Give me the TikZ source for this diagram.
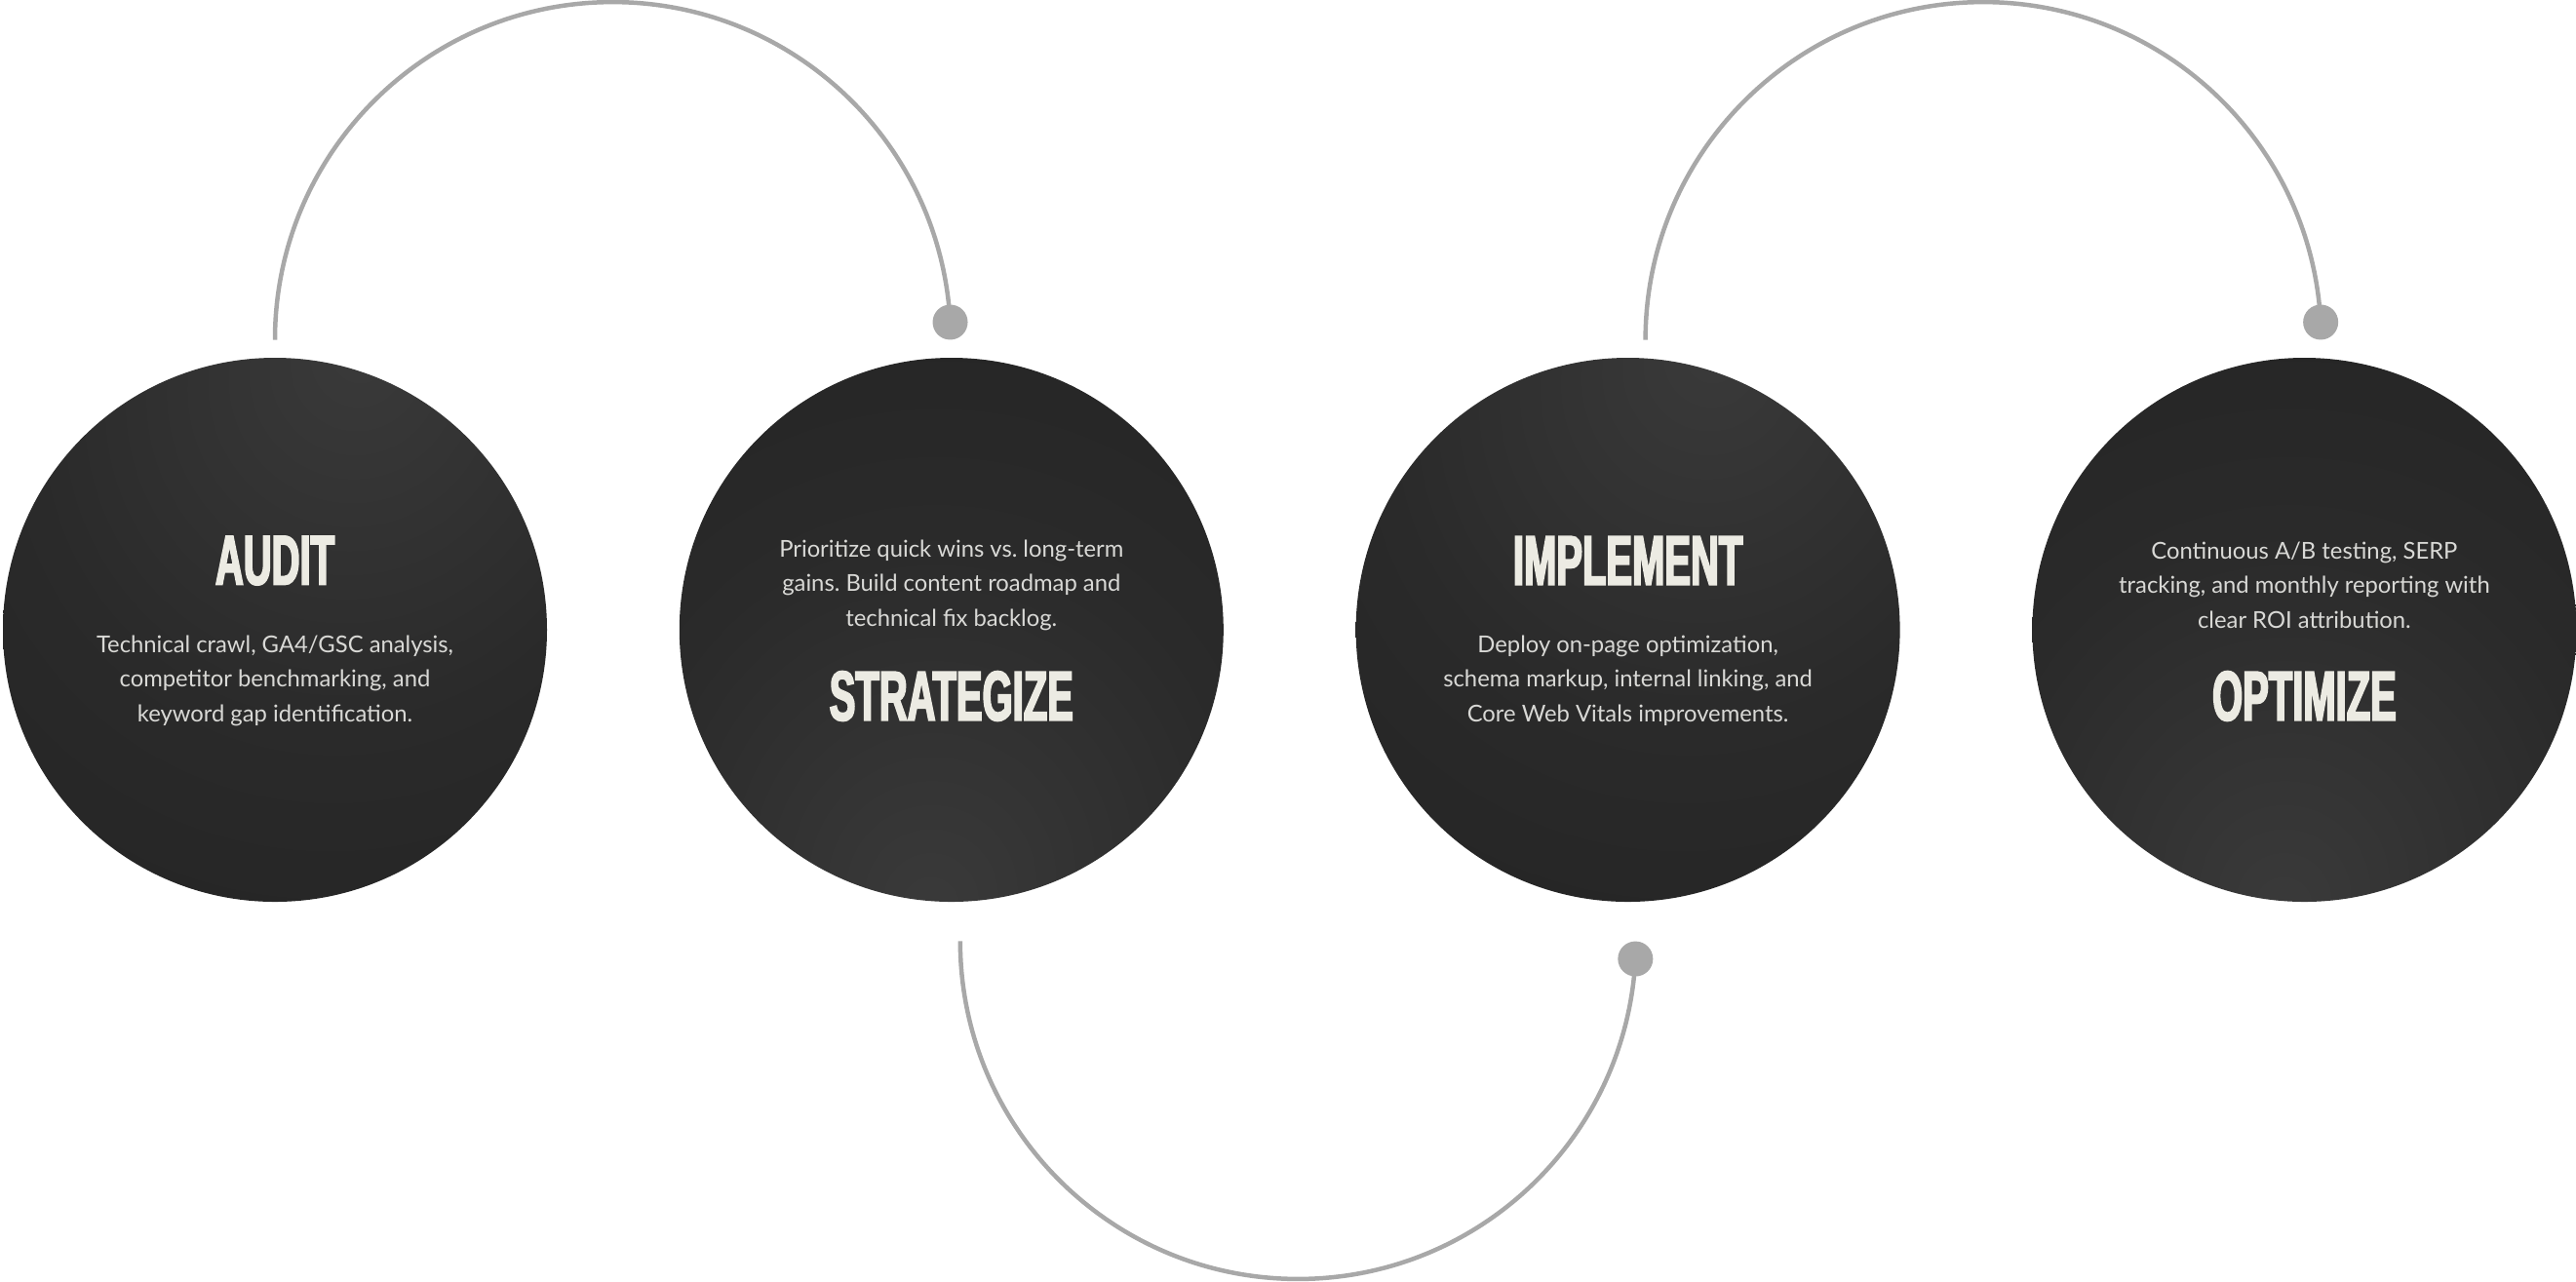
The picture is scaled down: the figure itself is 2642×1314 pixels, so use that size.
\documentclass[tikz,border=0pt]{standalone}
\usepackage{fontspec}
\setmainfont{Lato}
\newfontfamily\titlefont[FakeStretch=0.555,FakeBold=2.5]{Liberation Sans}
\usepackage{tikz}
\usetikzlibrary{positioning}
\frenchspacing

\definecolor{arcgray}{HTML}{A8A8A8}
\definecolor{ink}{HTML}{ECEBE3}
\definecolor{bodygray}{HTML}{D9D9D6}
\definecolor{phaseLight}{HTML}{3A3A3A}
\definecolor{phaseMid}{HTML}{2A2A2A}
\definecolor{phaseDark}{HTML}{1E1E1E}

\pgfdeclareradialshading{GlowUp}{\pgfpoint{8bp}{26bp}}{color(0bp)=(phaseLight); color(28bp)=(phaseMid); color(70bp)=(phaseDark); color(100bp)=(phaseDark)}
\pgfdeclareradialshading{GlowDown}{\pgfpoint{-2bp}{-26bp}}{color(0bp)=(phaseLight); color(28bp)=(phaseMid); color(70bp)=(phaseDark); color(100bp)=(phaseDark)}

\begin{document}
\begin{tikzpicture}[x=0.5pt,y=0.5pt,
                    PHASE/.style={circle, minimum size=279pt, inner sep=0pt},
                    TITLE/.style={font=\titlefont\bfseries\fontsize{36}{36}\selectfont, text=ink, inner sep=0pt},
                    BODY/.style={font=\fontsize{11.9}{17.75}\selectfont, text=bodygray, align=center, inner sep=0pt},
                    LINK/.style={draw=arcgray, line width=2.25pt},
                    DOT/.style={circle, fill=arcgray, minimum size=18pt, inner sep=0pt},
                ]
                \useasboundingbox (0,0) rectangle (2642,-1314);

                \node[PHASE, shading=GlowUp]    (Audit)      at (282,-646)           {};
                \node[PHASE, shading=GlowDown]  (Strategize) [right=67.5pt of Audit]      {};
                \node[PHASE, shading=GlowUp]    (Implement)  [right=67.5pt of Strategize] {};
                \node[PHASE, shading=GlowDown]  (Optimize)   [right=67.5pt of Implement]  {};

                \node[TITLE] (Audit_T) at ([yshift=35.5pt]Audit.center) {AUDIT};
                \node[BODY]  (Audit_B) at ([yshift=-26pt]Audit.center) {Technical crawl, GA4/GSC analysis,\\competitor benchmarking, and\\keyword gap identification.};

                \node[BODY]  (Strategize_B) at ([yshift=23pt]Strategize.center) {Prioritize quick wins vs. long-term\\gains. Build content roadmap and\\technical fix backlog.};
                \node[TITLE] (Strategize_T) at ([yshift=-34pt]Strategize.center) {STRATEGIZE};

                \node[TITLE] (Implement_T) at ([yshift=35.5pt]Implement.center) {IMPLEMENT};
                \node[BODY]  (Implement_B) at ([yshift=-26pt]Implement.center) {Deploy on-page optimization,\\schema markup, internal linking, and\\Core Web Vitals improvements.};

                \node[BODY]  (Optimize_B) at ([yshift=23pt]Optimize.center) {Continuous A/B testing, SERP\\tracking, and monthly reporting with\\clear ROI attribution.};
                \node[TITLE] (Optimize_T) at ([yshift=-34pt]Optimize.center) {OPTIMIZE};

                % links between the phases
                \coordinate (Audit_L)      at ([yshift=9pt]Audit.north);
                \coordinate (Strategize_L) at ([xshift=4.5pt,yshift=-20pt]Strategize.south);
                \coordinate (Implement_L)  at ([xshift=9pt,yshift=9pt]Implement.north);

                \draw[LINK] (Audit_L) arc[start angle=180, end angle=3, radius=173.25pt] node[DOT] (Strategize_D) {};
                \draw[LINK] (Strategize_L) arc[start angle=180, end angle=357, radius=173.25pt] node[DOT] (Implement_D) {};
                \draw[LINK] (Implement_L) arc[start angle=180, end angle=3, radius=173.25pt] node[DOT] (Optimize_D) {};

            \end{tikzpicture}
\end{document}
